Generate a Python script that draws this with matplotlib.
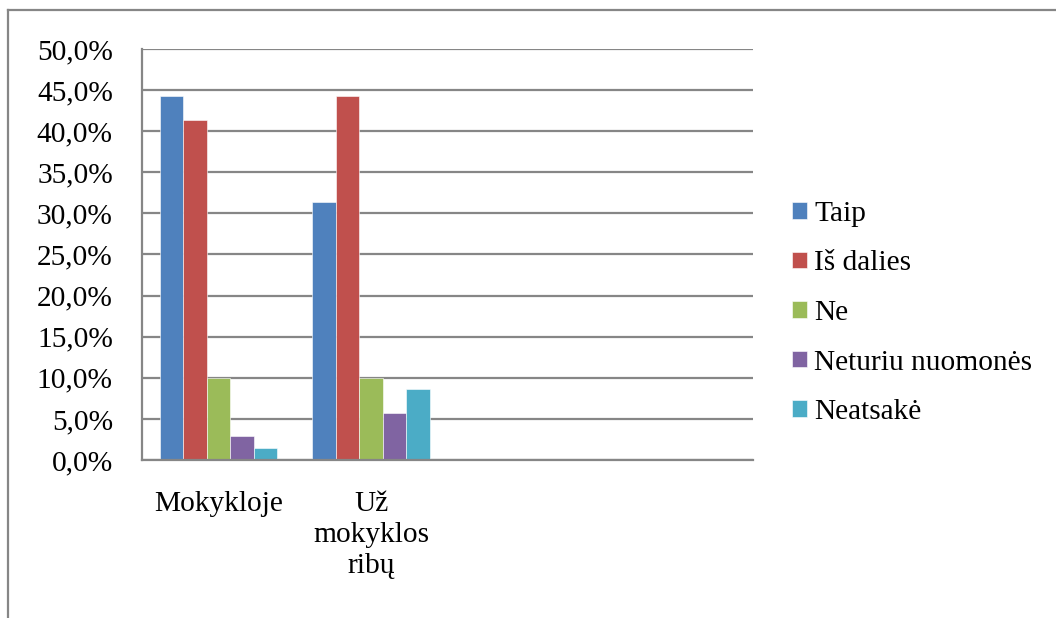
import numpy as np
import matplotlib.pyplot as plt
from matplotlib.lines import Line2D
from matplotlib.ticker import FuncFormatter

plt.rcParams['font.family'] = ['Liberation Serif', 'DejaVu Serif']

# share of answers, %
categories = ['Mokykloje', 'Už\nmokyklos\nribų', '', '']
series = ['Taip', 'Iš dalies', 'Ne', 'Neturiu nuomonės', 'Neatsakė']
mokykloje = [44.3, 41.4, 10.0, 2.9, 1.4]
uz_mokyklos = [31.4, 44.3, 10.0, 5.7, 8.6]
colors = ['#4F81BD', '#C0504D', '#9BBB59', '#8064A2', '#4BACC6']

values = np.array([mokykloje, uz_mokyklos, [np.nan]*5, [np.nan]*5])

fig = plt.figure(figsize=(10.56, 6.18), dpi=100)
ax = fig.add_axes([142/1056, 1-460/618, (753-142)/1056, (460-49)/618])

x = np.arange(len(categories))
w = 0.154
for i, s in enumerate(series):
    ax.bar(x + (i-2)*w, values[:, i], width=w, color=colors[i],
           edgecolor='white', linewidth=0.4, label=s, zorder=3)

ax.set_xlim(-0.5, 3.5)
ax.set_ylim(0, 50)
ax.set_yticks(np.arange(0, 51, 5))
ax.yaxis.set_major_formatter(FuncFormatter(lambda v, p: f'{v:.1f}%'.replace('.', ',')))
ax.set_xticks(x)
ax.set_xticklabels(categories)
ax.grid(axis='y', color='#868686', linewidth=1.6, zorder=0)
ax.tick_params(axis='both', length=0, labelsize=21.2)
ax.tick_params(axis='y', pad=21)
ax.tick_params(axis='x', pad=22)
for t in ax.get_xticklabels():
    t.set_linespacing(1.27)
    t.set_verticalalignment('top')
for sp in ['top', 'right']:
    ax.spines[sp].set_visible(False)
for sp in ['left', 'bottom']:
    ax.spines[sp].set_color('#868686')
    ax.spines[sp].set_linewidth(1.6)
    ax.spines[sp].set_zorder(4)

leg = fig.legend(loc='center left', bbox_to_anchor=(792/1056, 1-313/618),
                 frameon=False, fontsize=21.2, handlelength=0.5, handleheight=0.5,
                 handletextpad=0.25, labelspacing=0.8, borderpad=0, borderaxespad=0)

# chart border (cut off at right and bottom)
fig.add_artist(Line2D([8/1056, 1], [1-10/618, 1-10/618], color='#868686', lw=1.6))
fig.add_artist(Line2D([8/1056, 8/1056], [1-10/618, 0], color='#868686', lw=1.6))

fig.savefig('out.png', dpi=100)
